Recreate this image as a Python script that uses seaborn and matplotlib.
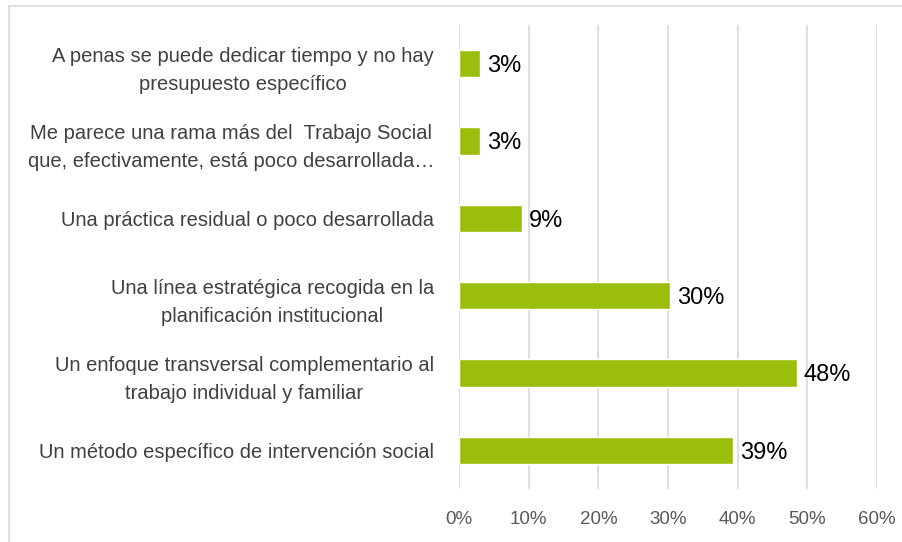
import pandas as pd
import matplotlib
matplotlib.use("Agg")
import matplotlib.pyplot as pyplot
from matplotlib.patches import Rectangle
from matplotlib.ticker import PercentFormatter
import seaborn as sns

# respuestas (porcentaje sobre el total)
categorias = [
    "A penas se puede dedicar tiempo y no hay\npresupuesto específico",
    "Me parece una rama más del  Trabajo Social\nque, efectivamente, está poco desarrollada…",
    "Una práctica residual o poco desarrollada",
    "Una línea estratégica recogida en la\nplanificación institucional",
    "Un enfoque transversal complementario al\ntrabajo individual y familiar",
    "Un método específico de intervención social",
]
porcentajes = [3.0, 3.0, 9.1, 30.3, 48.5, 39.4]
etiquetas = ["3%", "3%", "9%", "30%", "48%", "39%"]
ticks_x = [0, 10, 20, 30, 40, 50, 60]

VERDE = "#9BBD0B"

sns.set_theme(style="white")
pyplot.rcParams['font.family'] = ['Liberation Sans', 'DejaVu Sans']

df = pd.DataFrame({"categoria": categorias, "porcentaje": porcentajes})

fig = pyplot.figure(figsize=(9.02, 5.42), dpi=100)
ax = fig.add_axes([459 / 902, 1 - 489 / 542, (877 - 459) / 902, (489 - 25) / 542])

sns.barplot(data=df, y="categoria", x="porcentaje", orient="h", color=VERDE,
            width=0.35, saturation=1, ax=ax, zorder=3)

ax.set_xlim(0, 60)
ax.set_ylim(5.5, -0.5)
ax.set_xticks(ticks_x)
ax.xaxis.set_major_formatter(PercentFormatter(decimals=0))
ax.grid(axis="x", color="#D9D9D9", linewidth=1.2, zorder=0)
ax.grid(axis="y", visible=False)
for lado in ax.spines.values():
    lado.set_visible(False)
ax.set_xlabel("")
ax.set_ylabel("")
ax.tick_params(axis="x", length=0, pad=16, labelsize=13.5, labelcolor="#595959")
ax.tick_params(axis="y", length=0, pad=18, labelsize=14.5, labelcolor="#404040")
for t in ax.get_yticklabels():
    t.set_multialignment("center")
    t.set_linespacing(1.6)

for i, (v, txt) in enumerate(zip(porcentajes, etiquetas)):
    ax.text(v + 1.0, i + 0.03, txt, va="center", ha="left", fontsize=17, color="black")

# marco del grafico
fig.patches.append(Rectangle((9 / 902, -0.1), 1.2, 1.1 - 6 / 542, transform=fig.transFigure,
                             fill=False, edgecolor="#D9D9D9", linewidth=1.2))

fig.savefig("out.png", dpi=100)
